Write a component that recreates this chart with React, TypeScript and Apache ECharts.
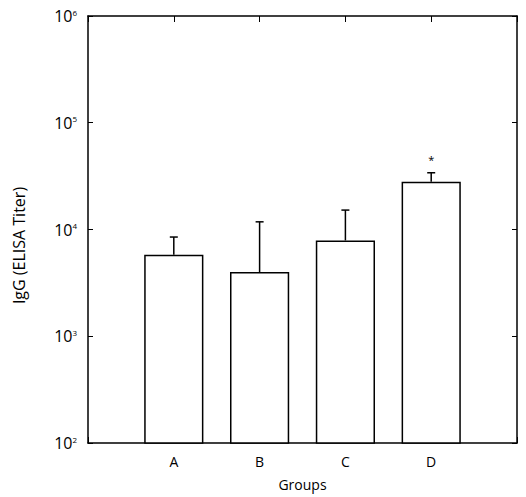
import React, { useEffect, useRef } from 'react';
import * as echarts from 'echarts';

const categories = ['', 'A', 'B', 'C', 'D', ''];
const means: (number | null)[] = [null, 5800, 4000, 7900, 28000, null];
const upperErr: (number | null)[] = [null, 8500, 11800, 15200, 34000, null];
const significance = ['', '', '', '', '*', ''];
const yAxisName = 'IgG (ELISA Titer)';
const xAxisName = 'Groups';

const FONT = 'Open Sans';

export default function App() {
  const ref = useRef<HTMLDivElement>(null);
  useEffect(() => {
    if (!ref.current) return;
    const chart = echarts.init(ref.current, undefined, { renderer: 'svg' });
    const errData = means
      .map((m, i) => (m == null ? null : [i, m, upperErr[i]]))
      .filter((d) => d != null);
    const supFmt = (v: number) => '{b|10}{s|' + Math.round(Math.log10(v)) + '}';
    chart.setOption({
      animation: false,
      backgroundColor: '#fff',
      textStyle: { fontFamily: FONT, color: '#000' },
      grid: { left: 88, right: 9, top: 16, bottom: 54 },
      xAxis: [
        {
          type: 'category',
          data: categories,
          boundaryGap: false,
          position: 'bottom',
          axisLine: { lineStyle: { color: '#000', width: 1.5 } },
          axisTick: { inside: true, length: 6, lineStyle: { color: '#000' }, interval: 0 },
          axisLabel: { interval: 0, margin: 11, fontSize: 14, color: '#000', fontFamily: FONT },
          name: xAxisName,
          nameLocation: 'middle',
          nameGap: 34,
          nameMoveOverlap: false,
          nameTextStyle: { fontSize: 14, color: '#000', fontFamily: FONT },
          splitLine: { show: false },
        },
        {
          type: 'category',
          data: categories,
          boundaryGap: false,
          position: 'top',
          axisLine: { lineStyle: { color: '#000', width: 1.5 } },
          axisTick: { inside: true, length: 6, lineStyle: { color: '#000' }, interval: 0 },
          axisLabel: { show: false },
          splitLine: { show: false },
        },
      ],
      yAxis: [
        {
          type: 'log',
          logBase: 10,
          min: 100,
          max: 1000000,
          position: 'left',
          axisLine: { show: true, lineStyle: { color: '#000', width: 1.5 } },
          axisTick: { show: true, inside: true, length: 5, lineStyle: { color: '#000' } },
          minorTick: { show: false },
          splitLine: { show: false },
          axisLabel: {
            formatter: supFmt,
            margin: 11,
            fontSize: 16,
            color: '#000',
            fontFamily: FONT,
            rich: {
              b: { fontSize: 16, fontFamily: FONT, color: '#000' },
              s: { fontSize: 8, verticalAlign: 'top', lineHeight: 12, padding: [0, 0, 9, 0], fontFamily: FONT, color: '#000' },
            },
          },
          name: yAxisName,
          nameLocation: 'middle',
          nameGap: 61,
          nameMoveOverlap: false,
          nameTextStyle: { fontSize: 16, color: '#000', fontFamily: FONT, padding: [0, 32, 0, 0] },
        },
        {
          type: 'log',
          logBase: 10,
          min: 100,
          max: 1000000,
          position: 'right',
          axisLine: { show: true, lineStyle: { color: '#000', width: 1.5 } },
          axisTick: { show: true, inside: true, length: 5, lineStyle: { color: '#000' } },
          splitLine: { show: false },
          axisLabel: { show: false },
        },
      ],
      series: [
        {
          type: 'bar',
          data: means.map((m) => (m == null ? '-' : m)),
          barWidth: '69%',
          clip: true,
          itemStyle: { color: '#fff', borderColor: '#000', borderWidth: 1.5 },
          z: 2,
        },
        {
          type: 'custom',
          data: errData,
          z: 3,
          renderItem: (params: any, api: any) => {
            const i = api.value(0);
            const p0 = api.coord([i, api.value(1)]);
            const p1 = api.coord([i, api.value(2)]);
            const children: any[] = [
              { type: 'line', shape: { x1: p0[0], y1: p0[1], x2: p1[0], y2: p1[1] }, style: { stroke: '#000', lineWidth: 1.5 } },
              { type: 'line', shape: { x1: p1[0] - 4, y1: p1[1], x2: p1[0] + 4, y2: p1[1] }, style: { stroke: '#000', lineWidth: 1.5 } },
            ];
            const sig = significance[i];
            if (sig) {
              children.push({
                type: 'text',
                style: {
                  text: sig,
                  x: p1[0],
                  y: p1[1] - 8,
                  align: 'center',
                  verticalAlign: 'bottom',
                  fontSize: 11,
                  fontFamily: FONT,
                  fill: '#000',
                },
              });
            }
            return { type: 'group', children };
          },
        },
      ],
    });
    return () => chart.dispose();
  }, []);
  return (
    <div
      ref={ref}
      style={{ position: 'fixed', left: 0, top: 0, width: 526, height: 497, background: '#fff' }}
    />
  );
}
